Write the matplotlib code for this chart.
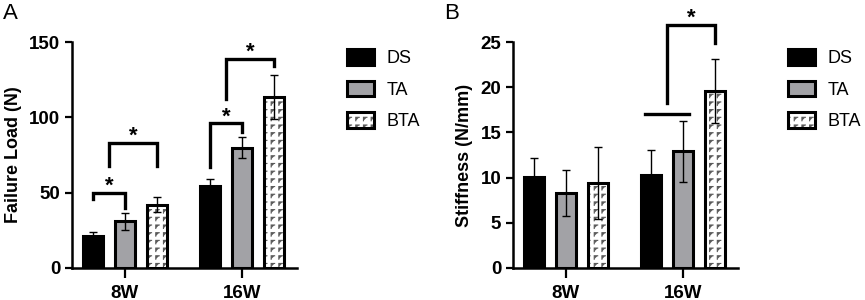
import warnings
import numpy as np
import matplotlib
matplotlib.use("Agg")
import matplotlib.pyplot as plt
import matplotlib.hatch as mhatch
from matplotlib.path import Path
from matplotlib.patches import Patch

warnings.filterwarnings("ignore")

# data
weeks = ["8W", "16W"]
groups = ["DS", "TA", "BTA"]

load_mean = {"DS": [21, 54.5], "TA": [31, 80], "BTA": [42, 113.5]}
load_sd = {"DS": [3, 4.5], "TA": [5.5, 7], "BTA": [5, 14.5]}

stiff_mean = {"DS": [10.1, 10.3], "TA": [8.3, 12.9], "BTA": [9.4, 19.6]}
stiff_sd = {"DS": [2.1, 2.8], "TA": [2.5, 3.4], "BTA": [4.0, 3.5]}

# significance brackets: (week, left bar, right bar, top, left leg end, right leg end)
# bar index may be fractional (0.5 = middle of DS/TA bracket)
load_brackets = [
    (0, 0, 1, 50, 46, 40),
    (0, 0.5, 2, 83, 68, 68),
    (1, 0, 1, 96, 67, 90),
    (1, 0.5, 2, 139, 112, 134),
]
stiff_brackets = [
    (1, 0.5, 2, 26.9, 18.3, 24.9),
]
stiff_lines = [(1, -0.17, 1.2, 17.0)]  # plain bar across DS/TA at 16W


# custom "maze" hatch for the BTA bars
class MazeHatch(mhatch.HatchPatternBase):
    def __init__(self, hatch, density):
        self.n = int(hatch.count("L") * density * 1.1)
        self.num_vertices = self.n * self.n * 3
        self.filled = False
        self.should_stroke = True

    def set_vertices_and_codes(self, vertices, codes):
        n = self.n
        s = 1.0 / n
        k = 0
        for i in range(n):
            for j in range(n):
                x0 = i * s
                y0 = j * s
                vertices[k] = (x0 + 0.25 * s, y0 + 0.3 * s)
                vertices[k + 1] = (x0 + 0.25 * s, y0 + 0.75 * s)
                vertices[k + 2] = (x0 + 0.7 * s, y0 + 0.75 * s)
                codes[k] = Path.MOVETO
                codes[k + 1] = Path.LINETO
                codes[k + 2] = Path.LINETO
                k += 3


mhatch._hatch_types.append(MazeHatch)

plt.rcParams["font.family"] = ["Liberation Sans", "DejaVu Sans"]
plt.rcParams["hatch.linewidth"] = 0.8

colors = {"DS": "black", "TA": "#a2a2a6", "BTA": "white"}
hatches = {"DS": None, "TA": None, "BTA": "LL"}
hatch_col = "#5a5a5a"

offset = 0.274
width = 0.175
x = np.arange(len(weeks))


def draw_panel(ax, means, sds, ylabel, ymax, ystep, brackets, lines, label):
    for i, g in enumerate(groups):
        xs = x + (i - 1) * offset
        if hatches[g]:
            ax.bar(xs, means[g], width, color=colors[g], edgecolor=hatch_col,
                   linewidth=0, hatch=hatches[g], zorder=2)
            ax.bar(xs, means[g], width, color="none", edgecolor="black",
                   linewidth=2.2, zorder=2)
        else:
            ax.bar(xs, means[g], width, color=colors[g], edgecolor="black",
                   linewidth=2.2, zorder=2)
        ax.errorbar(xs, means[g], yerr=sds[g], fmt="none", ecolor="black",
                    elinewidth=1.0, capsize=3, capthick=1.0, zorder=3)

    for wk, b1, b2, top, l1, l2 in brackets:
        xa = wk + (b1 - 1) * offset
        xb = wk + (b2 - 1) * offset
        ax.plot([xa, xa, xb, xb], [l1, top, top, l2], color="black",
                lw=2.4, solid_joinstyle="miter", clip_on=False, zorder=4)
        ax.text((xa + xb) / 2, top + ymax * 0.005, "*", ha="center",
                va="baseline", fontsize=16, fontweight="bold")

    for wk, b1, b2, yv in lines:
        xa = wk + (b1 - 1) * offset
        xb = wk + (b2 - 1) * offset
        ax.plot([xa, xb], [yv, yv], color="black", lw=2.4, clip_on=False,
                zorder=4)

    ax.set_xlim(-0.453, 1.47)
    ax.set_ylim(0, ymax)
    ax.set_yticks(np.arange(0, ymax + ystep / 2, ystep))
    ax.set_xticks(x)
    ax.set_xticklabels(weeks)
    ax.set_ylabel(ylabel, fontsize=13, fontweight="bold", labelpad=5)
    for lab in ax.get_xticklabels() + ax.get_yticklabels():
        lab.set_fontweight("bold")
        lab.set_fontsize(13.5)
    ax.tick_params(axis="both", width=1.6, length=5, direction="out")
    ax.tick_params(axis="x", length=7, pad=5)
    for side in ["top", "right"]:
        ax.spines[side].set_visible(False)
    for side in ["left", "bottom"]:
        ax.spines[side].set_linewidth(1.8)

    handles = []
    for g in groups:
        if hatches[g]:
            handles.append((Patch(facecolor=colors[g], edgecolor=hatch_col,
                                  linewidth=0, hatch=hatches[g]),
                            Patch(facecolor="none", edgecolor="black",
                                  linewidth=2.2)))
        else:
            handles.append(Patch(facecolor=colors[g], edgecolor="black",
                                 linewidth=2.2))
    ax.legend(handles, groups, loc="upper left", bbox_to_anchor=(1.19, 1.0),
              frameon=False, fontsize=13, handlelength=1.5, handleheight=0.95,
              handletextpad=0.7, labelspacing=0.75, borderaxespad=0)

    ax.text(-0.305, 1.125, label, transform=ax.transAxes, fontsize=16,
            ha="left", va="center")


fig = plt.figure(figsize=(8.65, 3.0), dpi=100)
ax1 = fig.add_axes([0.0832, 0.1067, 0.26, 0.753])
ax2 = fig.add_axes([0.593, 0.1067, 0.26, 0.753])

draw_panel(ax1, load_mean, load_sd, "Failure Load (N)", 150, 50,
           load_brackets, [], "A")
draw_panel(ax2, stiff_mean, stiff_sd, "Stiffness (N/mm)", 25, 5,
           stiff_brackets, stiff_lines, "B")

fig.savefig("out.png", dpi=100)
